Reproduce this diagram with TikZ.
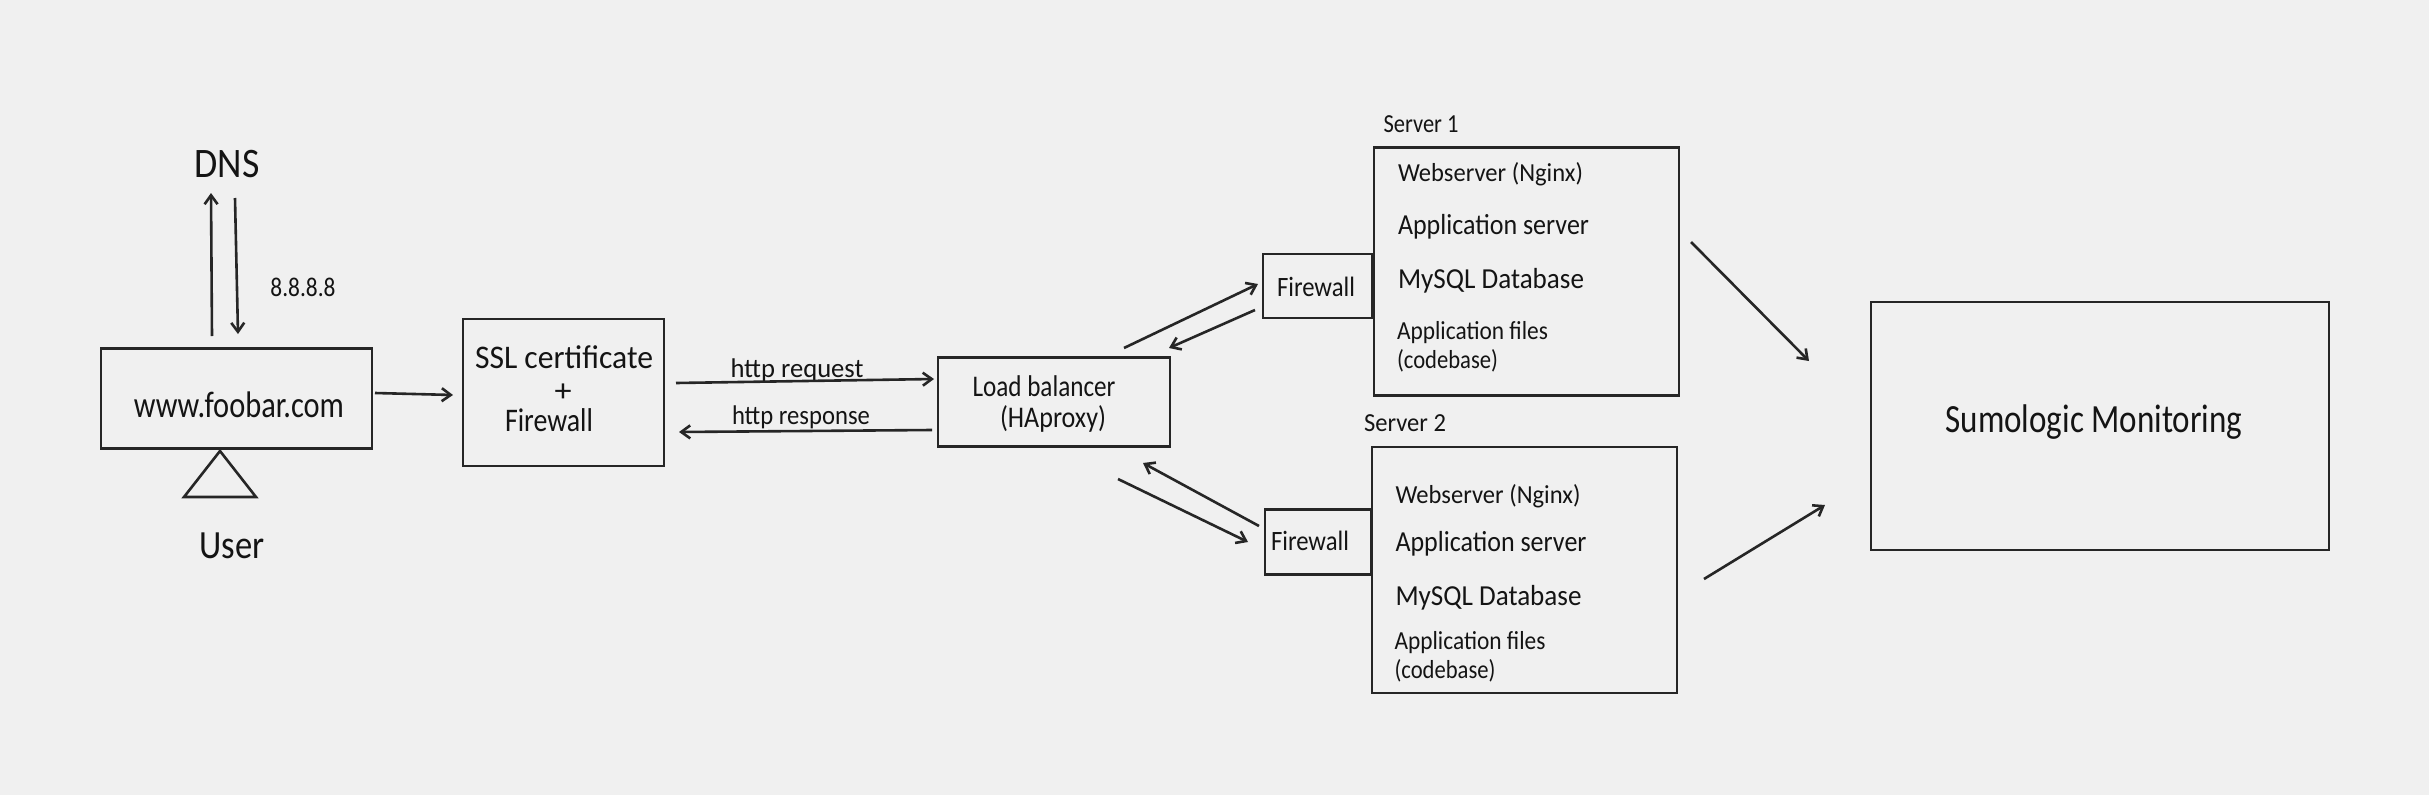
\documentclass[tikz,border=0pt]{standalone}
\usepackage{fontspec}
\usepackage{graphicx}
\setmainfont{Carlito}
\usetikzlibrary{arrows.meta}
\definecolor{bgc}{HTML}{F0F0F0}
\definecolor{ink}{HTML}{262626}
% #1 target width, #2 font size, #3 text
\newcommand{\W}[3]{\resizebox{#1pt}{\height}{\fontsize{#2pt}{#2pt}\selectfont #3}}
\tikzset{
  x=1pt,y=-1pt,
  boxnode/.style={draw=ink,line width=2.6pt,inner sep=0pt,fill=none},
  lbl/.style={inner sep=0pt,outer sep=0pt,text=black!92},
  conn/.style={draw=ink,line width=2.6pt,-{Straight Barb[length=9pt,width=13pt,line width=2.6pt]}}
}
\begin{document}
\begin{tikzpicture}
\useasboundingbox (0,0) rectangle (2429,795);
\fill[bgc] (0,0) rectangle (2429,795);
% boxes
\node[boxnode,minimum width=271pt,minimum height=100pt] (www) at (236.5,398.5) {};
\node[boxnode,minimum width=201pt,minimum height=147pt] (ssl) at (563.5,392.5) {};
\node[boxnode,minimum width=232pt,minimum height=89pt] (lb) at (1054,402) {};
\node[boxnode,minimum width=109pt,minimum height=64pt] (fwa) at (1317.5,286) {};
\node[boxnode,minimum width=106pt,minimum height=65pt] (fwb) at (1318,542) {};
\node[boxnode,minimum width=305pt,minimum height=248pt] (sa) at (1526.5,271.5) {};
\node[boxnode,minimum width=305pt,minimum height=246pt] (sb) at (1524.5,570) {};
\node[boxnode,minimum width=458pt,minimum height=248pt] (sumo) at (2100,426) {};
\draw[ink,line width=2.6pt,line join=miter] (220,451) -- (256,497) -- (184,497) -- cycle;
% labels
\node[lbl] (dns) at (227,164) {\W{65}{42}{DNS}};
\node[lbl] (usr) at (232,546) {\W{65}{40}{User}};
\node[lbl] (ip) at (303,287) {\W{65}{27}{8.8.8.8}};
\node[lbl] (wwwt) at (239,405) {\W{210}{37}{www.foobar.com}};
\node[lbl] (sslt) at (564,357) {\W{178}{33}{SSL certificate}};
\node[lbl] (plus) at (563,393) {\W{17}{32}{+}};
\node[lbl] (fwt) at (549,420) {\W{88}{33}{Firewall}};
\node[lbl] (req) at (797,370) {\W{133}{27}{http request}};
\node[lbl] (res) at (801,417) {\W{138}{27}{http response}};
\node[lbl] (lbt) at (1044,386) {\W{143}{30}{Load balancer}};
\node[lbl] (hap) at (1053,419) {\W{106}{30}{(HAproxy)}};
\node[lbl] (fwat) at (1316,287) {\W{78}{28}{Firewall}};
\node[lbl] (fwbt) at (1310,541) {\W{78}{28}{Firewall}};
\node[lbl] (s1) at (1421,124) {\W{75}{26}{Server 1}};
\node[lbl] (s2) at (1405,423) {\W{82}{26}{Server 2}};
\node[lbl,anchor=west] (a1) at (1398,174) {\W{185}{26}{Webserver (Nginx)}};
\node[lbl,anchor=west] (a2) at (1398,227) {\W{191}{29}{Application server}};
\node[lbl,anchor=west] (a3) at (1398,281) {\W{186}{29}{MySQL Database}};
\node[lbl,anchor=west] (a4) at (1397,333) {\W{151}{26}{Application files}};
\node[lbl,anchor=west] (a5) at (1397,361) {\W{101}{26}{(codebase)}};
\node[lbl,anchor=west] (b1) at (1395.5,496) {\W{185}{26}{Webserver (Nginx)}};
\node[lbl,anchor=west] (b2) at (1395.5,544) {\W{191}{29}{Application server}};
\node[lbl,anchor=west] (b3) at (1395.5,598) {\W{186}{29}{MySQL Database}};
\node[lbl,anchor=west] (b4) at (1394.5,643) {\W{151}{26}{Application files}};
\node[lbl,anchor=west] (b5) at (1394.5,671) {\W{101}{26}{(codebase)}};
\node[lbl] (sumot) at (2094,422) {\W{297}{40}{Sumologic Monitoring}};
% connector end points
\coordinate (c1s) at (212,336); \coordinate (c1e) at (211,193);
\coordinate (c2s) at (235,198); \coordinate (c2e) at (238,334);
\coordinate (c3s) at (375,393); \coordinate (c3e) at (453,395);
\coordinate (c4s) at (676,383); \coordinate (c4e) at (934,379);
\coordinate (c5s) at (932,430); \coordinate (c5e) at (679,432);
\coordinate (c6s) at (1124,348); \coordinate (c6e) at (1258,284);
\coordinate (c7s) at (1255,310); \coordinate (c7e) at (1169,348);
\coordinate (c8s) at (1118,479); \coordinate (c8e) at (1248,542);
\coordinate (c9s) at (1259,526); \coordinate (c9e) at (1143,463);
\coordinate (c10s) at (1691,242); \coordinate (c10e) at (1809,361);
\coordinate (c11s) at (1704,579); \coordinate (c11e) at (1825,505);
\foreach \i in {1,...,11} \draw[conn] (c\i s) -- (c\i e);
\end{tikzpicture}
\end{document}
